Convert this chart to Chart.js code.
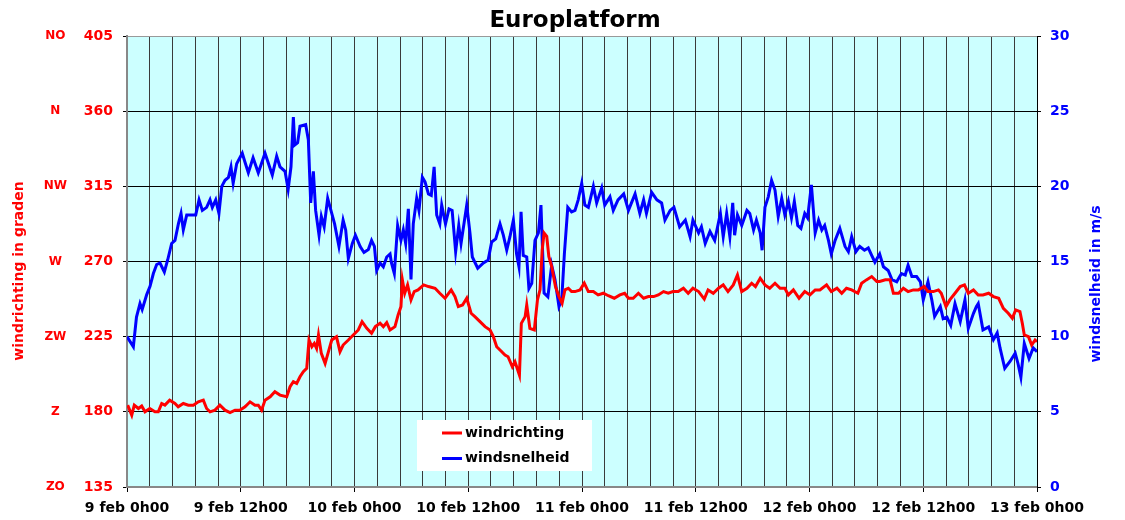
<!DOCTYPE html>
<html><head><meta charset="utf-8">
<script src="https://cdn.jsdelivr.net/npm/chart.js@4.4.1/dist/chart.umd.min.js"></script>
<style>html,body{margin:0;padding:0;background:#fff;}#wrap{width:1125px;height:520px;}</style>
</head><body><div id="wrap"><canvas id="c" width="1125" height="520"></canvas></div>
<script>
// Time in hours since 9 feb 0h00
const dirHours = [0.07,0.5,0.77,1.2,1.55,1.9,2.4,2.95,3.3,3.66,4.0,4.5,5.06,5.4,5.94,6.47,7.0,7.52,8.05,8.4,8.76,9.28,9.8,10.34,10.87,11.4,11.9,12.45,12.98,13.5,13.85,14.2,14.56,15.1,15.6,16.14,16.85,17.2,17.55,17.9,18.25,18.6,18.96,19.2,19.5,19.76,20.0,20.2,20.5,20.9,21.2,21.6,22.1,22.47,22.8,23.35,23.87,24.4,24.8,25.3,25.8,26.2,26.7,27.04,27.4,27.75,28.27,28.6,28.9,29.05,29.3,29.6,29.96,30.3,30.7,31.3,31.8,32.5,33.0,33.55,34.2,34.6,34.95,35.4,35.84,36.3,36.7,37.24,37.77,38.3,38.65,39.0,39.35,39.88,40.2,40.65,40.93,41.4,41.6,42.0,42.17,42.5,42.97,43.3,43.57,43.8,44.0,44.28,44.5,44.8,45.2,45.57,45.9,46.2,46.56,46.9,47.26,47.8,48.24,48.67,49.2,49.7,50.25,50.78,51.4,52.0,52.5,52.9,53.4,53.95,54.5,55.0,55.56,56.05,56.6,57.1,57.6,58.15,58.7,59.2,59.7,60.3,60.9,61.3,61.85,62.4,62.9,63.4,63.96,64.4,64.85,65.4,65.9,66.3,66.8,67.3,67.8,68.36,68.9,69.4,69.77,70.3,70.9,71.5,72.05,72.6,73.1,73.8,74.3,74.9,75.4,75.9,76.45,77.1,77.5,78.0,78.56,79.1,79.4,80.0,80.5,80.85,81.4,81.9,82.4,82.95,83.5,84.1,84.5,85.06,85.6,85.9,86.4,86.8,87.35,87.9,88.35,88.75,89.3,89.8,90.3,90.9,91.4,91.96,92.45,92.97,93.4,93.75,94.2,94.45,94.66,95.1,95.44,95.8,96.0];
const dirValues = [184,178,184,182,183.5,180,182,180,180,185,184,187,185,183,185,184,184,186,187,182,180,181,184,181,179.5,181,181,183,186,184,184,181,187,189,192,190,189,195,198,197,201,204,206,223,219,221,218,226,215,209,215,223,225,216,220,223,226,229,234,230,227,231,233,231,233.5,229,231,238,243,259,251,256,247,252,253,256,255,254,251,248,253,249,243,244,248,239,237,234,231,229,225,219,217,214,213,207,210,202,233,237,244,230,229,247,253,277,287,285,273,267,255,249,245,253,254,252,252,253,257,252,252,250,251,249.5,248,250,251,248,248,251,248,249,249,250,252,251,252,252,254,251,254,252,247.5,253,251,254,256,252,256,262,252,254,257,255,260,256,254,257,254,254,250,253,248,252,250,253,253,256,252,254,251,254,253,251,257,259,261,258,258,259,259,251,251,254,252,253,253,255,252,252,253,251,243,247,251,255,256,251,253,250,250,251,249,248,242,239,236,241,240,233,226,225,220,223,222];

const speedHours = [0,0.67,1.0,1.37,1.6,2.08,2.43,2.78,3.13,3.48,3.94,4.29,4.71,5.06,5.42,5.7,5.94,6.3,6.82,7.25,7.6,7.95,8.4,8.76,9.0,9.36,9.7,10.0,10.34,10.7,10.97,11.2,11.57,12.16,12.45,12.8,13.3,13.85,14.56,15.33,15.79,16.14,16.67,17.0,17.3,17.55,17.7,18.0,18.25,18.85,19.13,19.38,19.66,19.9,20.26,20.5,20.8,21.17,21.6,21.9,22.36,22.8,23.07,23.35,23.77,24.1,24.6,25.0,25.46,25.8,26.1,26.34,26.7,27.04,27.4,27.75,27.9,28.2,28.55,28.9,29.15,29.4,29.68,29.96,30.2,30.56,30.8,31.16,31.44,31.8,32.1,32.4,32.67,33.0,33.2,33.6,33.97,34.3,34.67,35.0,35.24,35.84,36.18,36.43,37.0,37.6,38.1,38.47,38.9,39.35,39.7,40.06,40.4,40.76,41.1,41.35,41.57,41.8,42.17,42.4,42.7,43.04,43.4,43.67,44.0,44.4,44.8,45.15,45.57,45.86,46.14,46.5,46.9,47.26,47.6,47.97,48.3,48.67,49.2,49.55,50.08,50.4,50.95,51.3,51.8,52.4,52.9,53.6,54.1,54.5,54.8,55.35,55.9,56.4,56.75,57.3,57.7,58.3,58.9,59.4,59.7,60.3,60.6,61.0,61.5,62.0,62.6,62.9,63.26,63.6,63.9,64.1,64.4,64.85,65.4,65.7,66.1,66.4,66.8,67.0,67.3,67.65,68.0,68.36,68.7,69.07,69.4,69.77,70.1,70.4,70.76,71.1,71.5,71.8,72.2,72.6,72.96,73.3,73.6,74.0,74.3,74.7,75.2,75.75,76.1,76.45,76.9,77.3,77.8,78.2,78.56,78.9,79.4,79.8,80.3,80.7,81.2,81.7,82.1,82.4,82.8,83.3,83.7,84.0,84.5,84.9,85.2,85.8,86.1,86.5,86.9,87.35,87.9,88.4,88.75,89.3,89.6,89.8,90.3,90.9,91.4,91.8,92.1,92.6,93.15,93.7,94.0,94.3,94.66,95.16,95.6,96.0];
const speedValues = [10.0,9.33,11.3,12.2,11.8,12.8,13.35,14.2,14.8,14.9,14.3,15.1,16.2,16.4,17.5,18.2,17.1,18.1,18.1,18.1,19.1,18.4,18.6,19.1,18.6,19.1,18.2,20.0,20.4,20.6,21.3,20.2,21.5,22.2,21.6,20.9,21.9,20.9,22.2,20.75,22.0,21.3,21.0,19.8,21.3,24.6,22.75,22.9,24.0,24.1,23.1,18.9,21.0,18.4,16.75,18.0,17.3,19.2,18.2,17.5,16.0,17.75,17.1,15.2,16.2,16.75,16.0,15.6,15.8,16.4,16.0,14.4,14.9,14.65,15.3,15.5,14.9,14.2,17.4,16.4,17.1,16.2,18.5,13.8,17.5,19.2,18.4,20.6,20.3,19.5,19.4,21.3,18.1,17.5,18.75,17.5,18.5,18.4,15.65,17.4,16.2,18.75,16.9,15.3,14.55,14.9,15.1,16.3,16.5,17.5,16.75,15.75,16.65,17.75,15.5,14.65,18.3,15.4,15.3,13.2,13.55,16.4,16.9,18.75,12.9,12.65,14.75,13.8,12.0,12.45,15.5,18.6,18.3,18.4,19.1,20.2,18.75,18.6,20.0,18.9,19.9,18.75,19.3,18.4,19.1,19.5,18.4,19.5,18.2,19.1,18.2,19.6,19.1,18.9,17.75,18.4,18.6,17.3,17.75,16.65,17.75,16.9,17.3,16.2,17.0,16.4,18.2,16.65,18.2,16.65,18.9,16.75,18.1,17.4,18.4,18.2,17.1,17.75,16.9,15.75,18.6,19.3,20.4,19.75,18.0,19.2,18.1,19.0,17.9,19.0,17.4,17.2,18.2,17.9,20.1,16.9,17.75,17.1,17.4,16.4,15.5,16.4,17.2,16.0,15.65,16.65,15.65,16.0,15.75,15.9,15.4,14.95,15.5,14.65,14.4,13.8,13.65,14.2,14.1,14.75,14.0,14.0,13.65,12.45,13.65,12.45,11.35,12.0,11.2,11.3,10.75,12.2,11.0,12.45,10.55,11.55,12.0,12.2,10.45,10.65,9.8,10.25,9.25,7.9,8.35,8.9,8.2,7.3,9.55,8.55,9.25,9.0];

const dirTicks = [135,180,225,270,315,360,405];
const compassLabels = ['ZO','Z','ZW','W','NW','N','NO'];
const timeLabelHours = [0,12,24,36,48,60,72,84,96];
const timeLabels = ['9 feb 0h00','9 feb 12h00','10 feb 0h00','10 feb 12h00','11 feb 0h00','11 feb 12h00','12 feb 0h00','12 feb 12h00','13 feb 0h00'];
const seriesNames = ['windrichting','windsnelheid'];
const titleText = 'Europlatform';
const leftTitle = 'windrichting in graden';
const rightTitle = 'windsnelheid in m/s';

const FONT = '"DejaVu Sans", Verdana, sans-serif';
Chart.defaults.font.family = FONT;

function labelIndex(v){ return timeLabelHours.findIndex(h => Math.abs(h - v) < 0.01); }

const decor = {
  id: 'decor',
  beforeDraw(chart){
    const {ctx, chartArea:a} = chart;
    ctx.save();
    ctx.fillStyle = '#fff';
    ctx.fillRect(0,0,chart.width,chart.height);
    ctx.fillStyle = '#CCFFFF';
    ctx.fillRect(a.left, a.top, a.right-a.left, a.bottom-a.top);
    ctx.restore();
  },
  afterDraw(chart){
    const ctx = chart.ctx;
    ctx.save();
    ctx.fillStyle = '#000';
    ctx.font = 'bold 23px ' + FONT;
    ctx.textAlign = 'center';
    ctx.textBaseline = 'alphabetic';
    ctx.fillText(titleText, 575, 26.5);
    ctx.font = 'bold 14px ' + FONT;
    ctx.textBaseline = 'middle';
    ctx.save(); ctx.translate(19.5, 271); ctx.rotate(-Math.PI/2);
    ctx.fillStyle = '#FF0000'; ctx.fillText(leftTitle, 0, 0); ctx.restore();
    ctx.save(); ctx.translate(1096, 284); ctx.rotate(-Math.PI/2);
    ctx.fillStyle = '#0000FF'; ctx.fillText(rightTitle, 0, 0); ctx.restore();
    ctx.fillStyle = '#fff';
    ctx.fillRect(417, 420, 175, 51);
    const rows = [433, 458.5];
    chart.data.datasets.forEach((ds, i) => {
      const y = rows[i];
      ctx.strokeStyle = ds.borderColor; ctx.lineWidth = 3;
      ctx.beginPath(); ctx.moveTo(442, y); ctx.lineTo(462, y); ctx.stroke();
      ctx.fillStyle = '#000'; ctx.font = 'bold 14px ' + FONT;
      ctx.textAlign = 'left'; ctx.textBaseline = 'middle';
      ctx.fillText(ds.label, 465, y);
    });
    ctx.restore();
  }
};

new Chart(document.getElementById('c'), {
  type: 'line',
  data: {
    datasets: [
      { label: seriesNames[0], data: dirHours.map((h,i)=>({x:h, y:dirValues[i]})),
        borderColor:'#FF0000', backgroundColor:'#FF0000', borderWidth:3, pointRadius:0, tension:0,
        yAxisID:'y', xAxisID:'x' },
      { label: seriesNames[1], data: speedHours.map((h,i)=>({x:h, y:speedValues[i]})),
        borderColor:'#0000FF', backgroundColor:'#0000FF', borderWidth:3, pointRadius:0, tension:0,
        yAxisID:'y2', xAxisID:'x' }
    ]
  },
  options: {
    responsive:false, animation:false, devicePixelRatio:1,
    layout:{ padding:{ top:36, left:0, right:0, bottom:0 } },
    plugins:{ legend:{display:false}, tooltip:{enabled:false}, title:{display:false} },
    scales:{
      x:{ type:'linear', position:'bottom', min:0, max:96,
          ticks:{ stepSize:2.4, autoSkip:false, maxRotation:0, minRotation:0, padding:8, color:'#000',
                  font:{size:14, weight:'bold'},
                  callback:(v)=>{ const i = labelIndex(v); return i>=0 ? timeLabels[i] : ''; } },
          grid:{ color:'#3a3a3a', lineWidth:1, tickLength:5,
                 tickColor:(c)=> (c.tick && labelIndex(c.tick.value)>=0) ? '#000' : 'rgba(0,0,0,0)' },
          border:{ color:'#888', width:2 },
          afterFit:(s)=>{ s.height = 33; } },
      y:{ type:'linear', position:'left', weight:0, min:135, max:405,
          ticks:{ stepSize:45, color:'#FF0000', font:{size:14, weight:'bold'}, padding:10 },
          grid:{ color:(c)=> (c.tick && c.tick.value===405) ? '#999' : '#000', lineWidth:1, tickLength:4, tickColor:'#000' },
          border:{ color:'#888', width:2 },
          afterFit:(s)=>{ s.width = 52; } },
      yc:{ type:'linear', position:'left', weight:1, min:135, max:405,
          ticks:{ stepSize:45, color:'#FF0000', font:{size:12, weight:'bold'}, crossAlign:'center', padding:8,
                  callback:(v)=>{ const i = dirTicks.indexOf(v); return i>=0 ? compassLabels[i] : ''; } },
          grid:{ display:false, drawTicks:false },
          border:{ display:false },
          afterFit:(s)=>{ s.width = 75; } },
      y2:{ type:'linear', position:'right', min:0, max:30,
          ticks:{ stepSize:5, color:'#0000FF', font:{size:14, weight:'bold'}, padding:9 },
          grid:{ drawOnChartArea:false, color:'#000', tickLength:4 },
          border:{ color:'#000', width:1 },
          afterFit:(s)=>{ s.width = 88; } }
    }
  },
  plugins:[decor]
});
</script>
</body></html>
